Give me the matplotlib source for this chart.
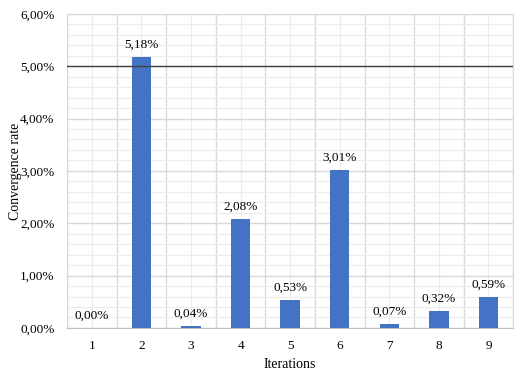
import numpy as np
import matplotlib
matplotlib.use("Agg")
import matplotlib.pyplot as plt
from matplotlib.ticker import FuncFormatter, MultipleLocator

# data (percent)
iterations = [1, 2, 3, 4, 5, 6, 7, 8, 9]
rates = [0.00, 5.18, 0.04, 2.08, 0.53, 3.01, 0.07, 0.32, 0.59]
threshold = 5.0

plt.rcParams['font.family'] = ['Liberation Serif', 'DejaVu Serif']

fig = plt.figure(figsize=(5.2, 3.84), dpi=100)
ax = fig.add_axes([0.129, 0.146, 0.858, 0.818])

def pct(v, pos=None):
    return f"{v:.2f}%".replace('.', ',')

x = np.arange(len(iterations))
ax.bar(x, rates, width=0.39, color='#4472C4', zorder=3)
for xi, r in zip(x, rates):
    ax.text(xi, r + 0.12, pct(r), ha='center', va='bottom', fontsize=9.5, zorder=4)

ax.axhline(threshold, color='#404040', lw=1.0, zorder=4)

ax.set_xlim(-0.5, len(iterations) - 0.5)
ax.set_ylim(0, 6)
ax.yaxis.set_major_locator(MultipleLocator(1))
ax.yaxis.set_minor_locator(MultipleLocator(0.2))
ax.yaxis.set_major_formatter(FuncFormatter(pct))

ax.set_xticks(x)
ax.set_xticklabels([str(i) for i in iterations])
ax.set_xticks(np.arange(-0.5, len(iterations)), minor=True)

# gridlines: majors on y and category borders, minors lighter
ax.grid(True, which='major', axis='y', color='#d9d9d9', lw=1.0, zorder=0)
ax.grid(True, which='minor', axis='y', color='#ececec', lw=0.8, zorder=0)
ax.grid(True, which='minor', axis='x', color='#d9d9d9', lw=1.0, zorder=0)
ax.grid(True, which='major', axis='x', color='#ececec', lw=0.8, zorder=0)

ax.tick_params(which='both', length=0, labelsize=9.5)
ax.tick_params(axis='x', pad=9)
ax.tick_params(axis='y', pad=9)
for s in ['top', 'right', 'left']:
    ax.spines[s].set_color('#d9d9d9')
ax.spines['bottom'].set_color('#bfbfbf')

ax.set_xlabel('Iterations', fontsize=10, labelpad=4)
ax.set_ylabel('Convergence rate', fontsize=10)
ax.yaxis.set_label_coords(-0.102, 0.5)

fig.savefig('out.png', dpi=100)
